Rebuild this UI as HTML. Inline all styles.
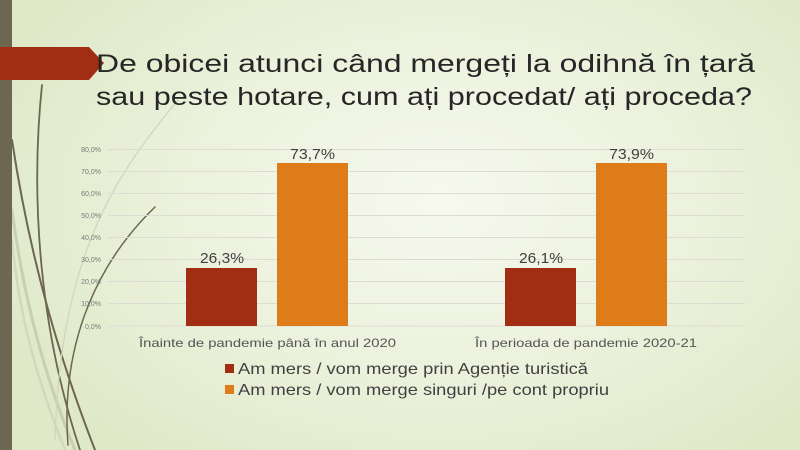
<!DOCTYPE html>
<html><head><meta charset="utf-8"><style>
html,body{margin:0;padding:0}
body{width:800px;height:450px;overflow:hidden;position:relative;font-family:"Liberation Sans",sans-serif;
background:radial-gradient(ellipse 60% 70% at 55% 45%,#f6f8ee 0%,#eef3e0 45%,#dfe9c8 100%);}
svg{position:absolute;left:0;top:0}
</style></head><body>
<svg width="800" height="450" viewBox="0 0 800 450">
<g fill="none" stroke-linecap="round">
<path d="M42 85 C30 200,40 330,80 450" stroke="#6d6650" stroke-width="1.8"/>
<path d="M12 140 C30 260,60 360,95 450" stroke="#6d6650" stroke-width="2"/>
<path d="M12 210 C25 310,50 390,75 450" stroke="#c9cfb2" stroke-width="3"/>
<path d="M12 240 C20 330,45 400,65 450" stroke="#d3d8bf" stroke-width="2.5"/>
<path d="M155 207 C100 260,60 340,68 445" stroke="#6d6650" stroke-width="1.5"/>
<path d="M178 100 C120 170,60 250,55 440" stroke="#cfd3bf" stroke-width="1.2"/>
</g>
<rect x="0" y="0" width="12" height="450" fill="#6d6650"/>
<polygon points="0,47 89,47 104,63 89,80 0,80" fill="#a12e12"/>
<text x="96" y="72" font-size="25" fill="#262626" textLength="659" lengthAdjust="spacingAndGlyphs">De obicei atunci când mergeți la odihnă în țară</text>
<text x="96" y="105" font-size="25" fill="#262626" textLength="656" lengthAdjust="spacingAndGlyphs">sau peste hotare, cum ați procedat/ ați proceda?</text>
<g stroke="#dcdcd2" stroke-width="1">
<line x1="108" x2="745" y1="149.5" y2="149.5"/><line x1="108" x2="745" y1="171.5" y2="171.5"/>
<line x1="108" x2="745" y1="193.5" y2="193.5"/><line x1="108" x2="745" y1="215.5" y2="215.5"/>
<line x1="108" x2="745" y1="237.5" y2="237.5"/><line x1="108" x2="745" y1="259.5" y2="259.5"/>
<line x1="108" x2="745" y1="281.5" y2="281.5"/><line x1="108" x2="745" y1="303.5" y2="303.5"/>
<line x1="108" x2="745" y1="326" y2="326"/>
</g>
<g font-size="7" fill="#7a7a7a" text-anchor="end">
<text x="101" y="152">80,0%</text><text x="101" y="174">70,0%</text><text x="101" y="196">60,0%</text>
<text x="101" y="218">50,0%</text><text x="101" y="240">40,0%</text><text x="101" y="262">30,0%</text>
<text x="101" y="284">20,0%</text><text x="101" y="306">10,0%</text><text x="101" y="329">0,0%</text>
</g>
<rect x="186" y="268" width="71" height="58" fill="#a12e12"/>
<rect x="277" y="163" width="71" height="163" fill="#dd7c18"/>
<rect x="505" y="268" width="71" height="58" fill="#a12e12"/>
<rect x="596" y="163" width="71" height="163" fill="#dd7c18"/>
<g font-size="15" fill="#404040">
<text x="200" y="263" textLength="44" lengthAdjust="spacingAndGlyphs">26,3%</text>
<text x="290" y="159" textLength="45" lengthAdjust="spacingAndGlyphs">73,7%</text>
<text x="519" y="263" textLength="44" lengthAdjust="spacingAndGlyphs">26,1%</text>
<text x="609" y="159" textLength="45" lengthAdjust="spacingAndGlyphs">73,9%</text>
</g>
<g font-size="12" fill="#555">
<text x="139" y="347" textLength="257" lengthAdjust="spacingAndGlyphs">Înainte de pandemie până în anul 2020</text>
<text x="475" y="347" textLength="222" lengthAdjust="spacingAndGlyphs">În perioada de pandemie 2020-21</text>
</g>
<rect x="225" y="364" width="9" height="9" fill="#a12e12"/>
<rect x="225" y="385" width="9" height="9" fill="#dd7c18"/>
<g font-size="16" fill="#404040">
<text x="238" y="374" textLength="350" lengthAdjust="spacingAndGlyphs">Am mers / vom merge prin Agenție turistică</text>
<text x="238" y="395" textLength="371" lengthAdjust="spacingAndGlyphs">Am mers / vom merge singuri /pe cont propriu</text>
</g>
</svg>
</body></html>
